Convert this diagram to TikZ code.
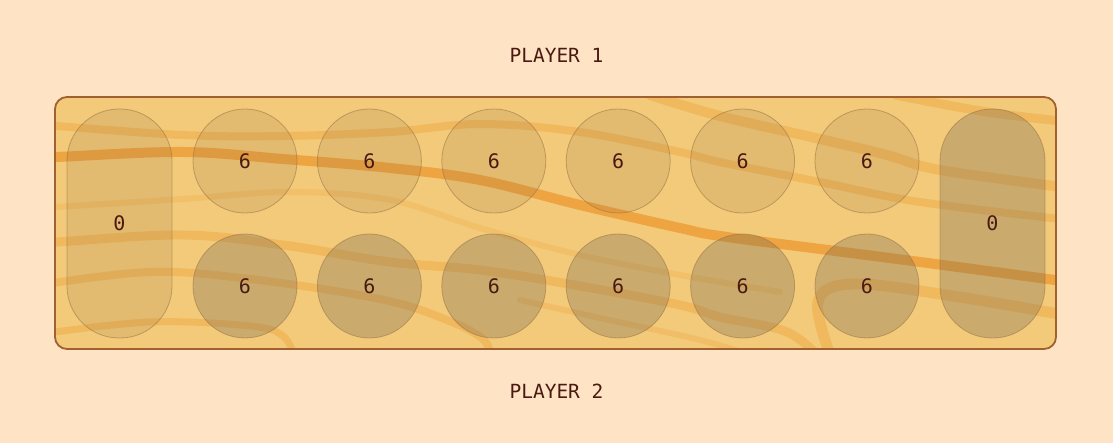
\documentclass[tikz,border=0pt]{standalone}
\usepackage{fontspec}
\newfontfamily\monof{DejaVu Sans Mono}
\definecolor{bg}{HTML}{FEE4C4}
\definecolor{wood}{HTML}{F3CA7A}
\definecolor{rim}{HTML}{A0602F}
\definecolor{grain}{HTML}{EC9E38}
\definecolor{grainlt}{HTML}{F0AE4C}
\definecolor{ink}{HTML}{4A1A12}
\definecolor{pitlt}{HTML}{8C6A3C}
\definecolor{pitdk}{HTML}{6E6450}
\definecolor{pitrim}{HTML}{9A7444}
\begin{document}
\begin{tikzpicture}[x=1pt,y=-1pt,
  lbl/.style={font=\monof\fontsize{19.5}{22}\selectfont, text=ink},
  pitbase/.style={circle, minimum size=104pt, inner sep=0pt, draw=pitrim, draw opacity=0.55, line width=0.8pt, text opacity=1, font=\monof\fontsize{20}{22}\selectfont, text=ink},
  pittop/.style={pitbase, fill=pitlt, fill opacity=0.16},
  pitbot/.style={pitbase, fill=pitdk, fill opacity=0.30},
  storebase/.style={rectangle, rounded corners=52pt, minimum width=105pt, minimum height=229pt, inner sep=0pt, draw=pitrim, draw opacity=0.55, line width=0.8pt, text opacity=1, font=\monof\fontsize{20}{22}\selectfont, text=ink},
  storelt/.style={storebase, fill=pitlt, fill opacity=0.16},
  storedk/.style={storebase, fill=pitdk, fill opacity=0.30},
  banddk/.style={draw=grain, draw opacity=0.85, line cap=round},
  bandlt/.style={draw=grainlt, draw opacity=0.6, line cap=round}
]
\useasboundingbox (0,0) rectangle (1113,443);
\fill[bg] (0,0) rectangle (1113,443);
% board
\fill[wood, rounded corners=12pt] (55,97) rectangle (1056,349);
\begin{scope}
\clip[rounded corners=12pt] (55,97) rectangle (1056,349);
% grain bands
\draw[bandlt, line width=8pt] plot[smooth, tension=0.6] coordinates {(40,124) (57,126) (183,135) (283,136) (390,132) (480,124) (580,132) (680,152) (720,162) (820,182) (920,202) (1070,220)};
\draw[banddk, line width=10pt] plot[smooth, tension=0.6] coordinates {(40,158) (57,157) (183,152) (283,159) (390,168) (480,180) (580,205) (680,228) (720,236) (820,249) (920,262) (1070,282)};
\draw[bandlt, line width=6pt, draw opacity=0.35] plot[smooth, tension=0.6] coordinates {(40,208) (183,199) (290,192) (390,200) (480,228) (580,255) (680,275) (780,292)};
\draw[bandlt, line width=9pt] plot[smooth, tension=0.6] coordinates {(40,243) (57,242) (183,235) (283,245) (390,262) (480,270) (580,286) (680,305) (720,317) (787,332) (822,360)};
\draw[bandlt, line width=8pt] plot[smooth, tension=0.6] coordinates {(40,285) (150,272) (250,279) (380,299) (447,320) (484,340) (490,360)};
\draw[bandlt, line width=7pt] plot[smooth, tension=0.6] coordinates {(40,334) (150,322) (250,326) (283,336) (296,360)};
\draw[bandlt, line width=6pt, draw opacity=0.4] plot[smooth, tension=0.6] coordinates {(520,300) (600,318) (700,340) (760,358)};
\draw[bandlt, line width=10pt] plot[smooth, tension=0.6] coordinates {(650,95) (720,116) (820,139) (887,155) (940,170) (1070,188)};
\draw[bandlt, line width=9pt] plot[smooth, tension=0.6] coordinates {(895,95) (987,112) (1070,122)};
\draw[bandlt, line width=11pt] plot[smooth, tension=0.6] coordinates {(832,360) (818,302) (853,284) (953,296) (1070,316)};
\end{scope}
\draw[rim, line width=1.8pt, rounded corners=12pt] (55,97) rectangle (1056,349);
% stores
\node[storelt] (s2) at (119.5,223.5) {0};
\node[storedk] (s1) at (992.5,223.5) {0};
% pits
\node[pittop] (t1) at (245,161) {6};
\node[pittop] (t2) at (369.4,161) {6};
\node[pittop] (t3) at (493.8,161) {6};
\node[pittop] (t4) at (618.2,161) {6};
\node[pittop] (t5) at (742.6,161) {6};
\node[pittop] (t6) at (867,161) {6};
\node[pitbot] (b1) at (245,286) {6};
\node[pitbot] (b2) at (369.4,286) {6};
\node[pitbot] (b3) at (493.8,286) {6};
\node[pitbot] (b4) at (618.2,286) {6};
\node[pitbot] (b5) at (742.6,286) {6};
\node[pitbot] (b6) at (867,286) {6};
% labels
\node[lbl] (p1) at (556.5,55) {PLAYER 1};
\node[lbl] (p2) at (556.5,391) {PLAYER 2};
\end{tikzpicture}
\end{document}
